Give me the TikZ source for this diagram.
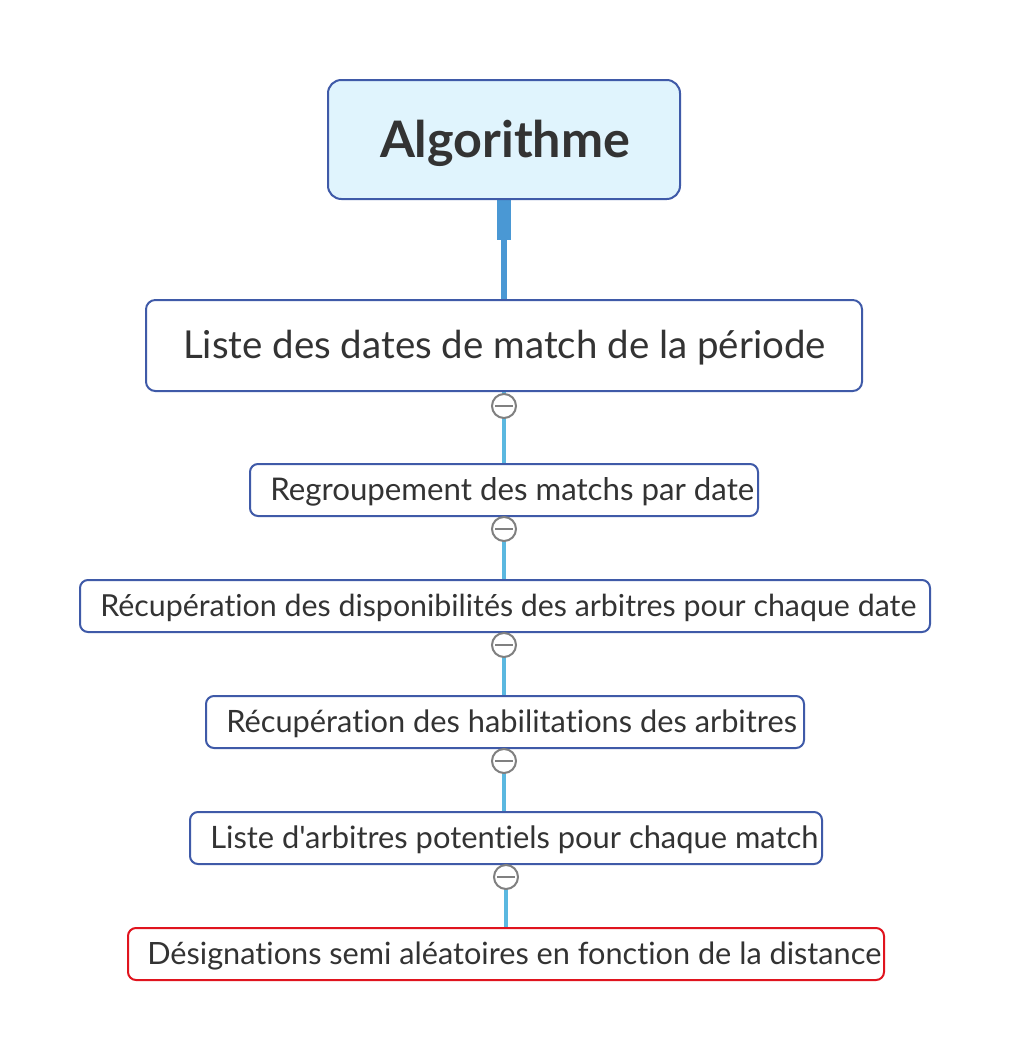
\documentclass[tikz,border=0pt]{standalone}
\usepackage{fontspec}
\usepackage{graphicx}
\setmainfont{Lato}[Ligatures={TeXOff,NoCommon}]
\usetikzlibrary{backgrounds}
\definecolor{bordblue}{HTML}{3F5AA8}
\definecolor{bordred}{HTML}{E0141E}
\definecolor{rootfill}{HTML}{E0F4FD}
\definecolor{topblue}{HTML}{4A98D4}
\definecolor{linkcyan}{HTML}{5BB8E0}
\definecolor{txtgray}{HTML}{333333}
\definecolor{circgray}{HTML}{808080}
\newcommand{\fitw}[2]{\resizebox{#1}{!}{#2}}
\begin{document}
\begin{tikzpicture}[x=0.75pt,y=-0.75pt,
  rootbox/.style={draw=bordblue, line width=1.5pt, fill=rootfill, rounded corners=10pt, inner sep=0pt},
  mainbox/.style={draw=bordblue, line width=1.5pt, fill=white, rounded corners=7pt, inner sep=0pt},
  subbox/.style={draw=bordblue, line width=1.5pt, fill=white, rounded corners=6pt, inner sep=0pt, minimum height=39pt},
  redbox/.style={subbox, draw=bordred},
  lbl/.style={inner sep=0pt, text=txtgray, font=\fontsize{20}{24}\selectfont, anchor=west},
  collapse/.style={circle, draw=circgray, line width=1.5pt, fill=white, minimum size=18pt, inner sep=0pt,
    path picture={\draw[circgray, line width=1.5pt] ([xshift=-6.5pt]path picture bounding box.center) -- ([xshift=6.5pt]path picture bounding box.center);}},
  rootlink/.style={draw=topblue, line width=10.5pt},
  rootlinkthin/.style={draw=topblue, line width=4.5pt},
  sublink/.style={draw=linkcyan, line width=3pt}
]
\useasboundingbox (0,0) rectangle (1010,1060);

% boxes
\node[rootbox, minimum width=264pt, minimum height=89.25pt] (n1) at (504,139.5) {};
\node[inner sep=0pt, text=txtgray, font=\bfseries\fontsize{30}{36}\selectfont] (t1) at (505,143) {\fitw{187.5pt}{Algorithme}};

\node[mainbox, minimum width=537pt, minimum height=68.25pt] (n2) at (504,345.5) {};
\node[inner sep=0pt, text=txtgray, font=\fontsize{24}{28}\selectfont] (t2) at (504.5,347.5) {\fitw{482pt}{Liste des dates de match de la période}};

\node[subbox, minimum width=381pt] (n3) at (504,490) {};
\node[lbl] (t3) at ([xshift=21pt*0.75, yshift=-1.5pt]n3.west) {\fitw{363pt}{Regroupement des matchs par date}};

\node[subbox, minimum width=637.5pt] (n4) at (505,606) {};
\node[lbl] (t4) at ([xshift=21pt*0.75, yshift=-1.5pt]n4.west) {\fitw{612pt}{Récupération des disponibilités des arbitres pour chaque date}};

\node[subbox, minimum width=448.5pt] (n5) at (505,722) {};
\node[lbl] (t5) at ([xshift=21pt*0.75, yshift=-1.5pt]n5.west) {\fitw{428pt}{Récupération des habilitations des arbitres}};

\node[subbox, minimum width=474pt] (n6) at (506,838) {};
\node[lbl] (t6) at ([xshift=21pt*0.75, yshift=-1.5pt]n6.west) {\fitw{456pt}{Liste d'arbitres potentiels pour chaque match}};

\node[redbox, minimum width=567pt] (n7) at (506,954) {};
\node[lbl] (t7) at ([xshift=20pt*0.75, yshift=-1.5pt]n7.west) {\fitw{550.5pt}{Désignations semi aléatoires en fonction de la distance}};

% collapse markers
\node[collapse] (c2) at (504,406) {};
\node[collapse] (c3) at (504,529) {};
\node[collapse] (c4) at (504,645) {};
\node[collapse] (c5) at (504,761) {};
\node[collapse] (c6) at (506,877) {};

\coordinate (j1) at (504,240);

\begin{scope}[on background layer]
  \fill[white] (0,0) rectangle (1010,1060);
  \draw[rootlink] (n1.south) -- (j1);
  \draw[rootlinkthin] (j1) -- (n2.north);
  \draw[sublink] (n2.south -| c2) -- (n3.north -| c2);
  \draw[sublink] (n3.south -| c3) -- (n4.north -| c3);
  \draw[sublink] (n4.south -| c4) -- (n5.north -| c4);
  \draw[sublink] (n5.south -| c5) -- (n6.north -| c5);
  \draw[sublink] (n6.south -| c6) -- (n7.north -| c6);
\end{scope}
\end{tikzpicture}
\end{document}
